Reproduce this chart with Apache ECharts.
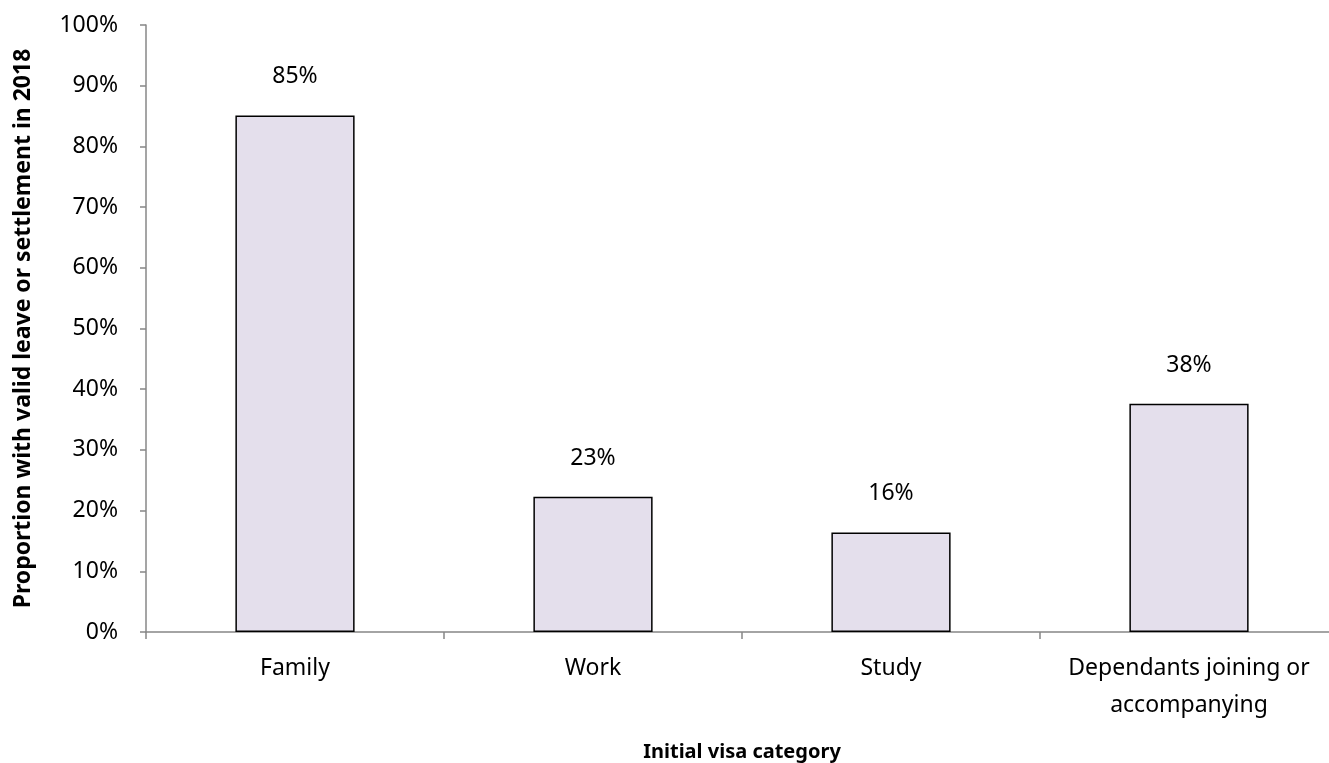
<!DOCTYPE html>
<html>
<head>
<meta charset="utf-8">
<script src="https://cdn.jsdelivr.net/npm/echarts@6/dist/echarts.min.js"></script>
<style>html,body{margin:0;padding:0;background:#fff;}#c{width:1329px;height:763px;}</style>
</head>
<body>
<div id="c"></div>
<script>
var categories = ['Family', 'Work', 'Study', 'Dependants joining or\naccompanying'];
var values = [85.1, 22.3, 16.4, 37.6];
var labels = ['85%', '23%', '16%', '38%'];
var yTicks = [0, 10, 20, 30, 40, 50, 60, 70, 80, 90, 100];

var FONT = 'Noto Sans';
var chart = echarts.init(document.getElementById('c'), null, {renderer: 'canvas'});
chart.setOption({
  animation: false,
  backgroundColor: '#fff',
  grid: {left: 146, top: 25, width: 1192, bottom: 131, containLabel: false, outerBoundsMode: 'none'},
  xAxis: {
    type: 'category',
    data: categories,
    boundaryGap: true,
    name: 'Initial visa category',
    nameLocation: 'middle',
    nameGap: 110,
    nameTextStyle: {fontFamily: FONT, fontSize: 20, fontWeight: 'bold', color: '#000'},
    axisLine: {lineStyle: {color: '#878787', width: 1.5}},
    axisTick: {show: true, interval: 0, length: 7, lineStyle: {color: '#878787', width: 1.5}},
    axisLabel: {interval: 0, hideOverlap: false, fontFamily: FONT, fontSize: 23, color: '#000', margin: 18, lineHeight: 37}
  },
  yAxis: {
    type: 'value',
    min: 0, max: 100, interval: 10,
    name: 'Proportion with valid leave or settlement in 2018',
    nameLocation: 'middle',
    nameGap: 111,
    nameTextStyle: {fontFamily: FONT, fontSize: 23, fontWeight: 'bold', color: '#000'},
    axisLine: {show: true, lineStyle: {color: '#878787', width: 1.5}},
    axisTick: {show: true, length: 6, lineStyle: {color: '#878787', width: 1.5}},
    splitLine: {show: false},
    axisLabel: {
      fontFamily: FONT, fontSize: 23, color: '#000', margin: 28,
      formatter: function (v) { return yTicks.indexOf(v) >= 0 ? v + '%' : ''; }
    }
  },
  series: [{
    type: 'bar',
    data: values,
    barWidth: '40%',
    itemStyle: {color: '#E4DFEC', borderColor: '#000', borderWidth: 1.5},
    label: {
      show: true, position: 'top', distance: 27,
      fontFamily: FONT, fontSize: 23, color: '#000',
      formatter: function (p) { return labels[p.dataIndex]; }
    }
  }]
});
</script>
</body>
</html>
